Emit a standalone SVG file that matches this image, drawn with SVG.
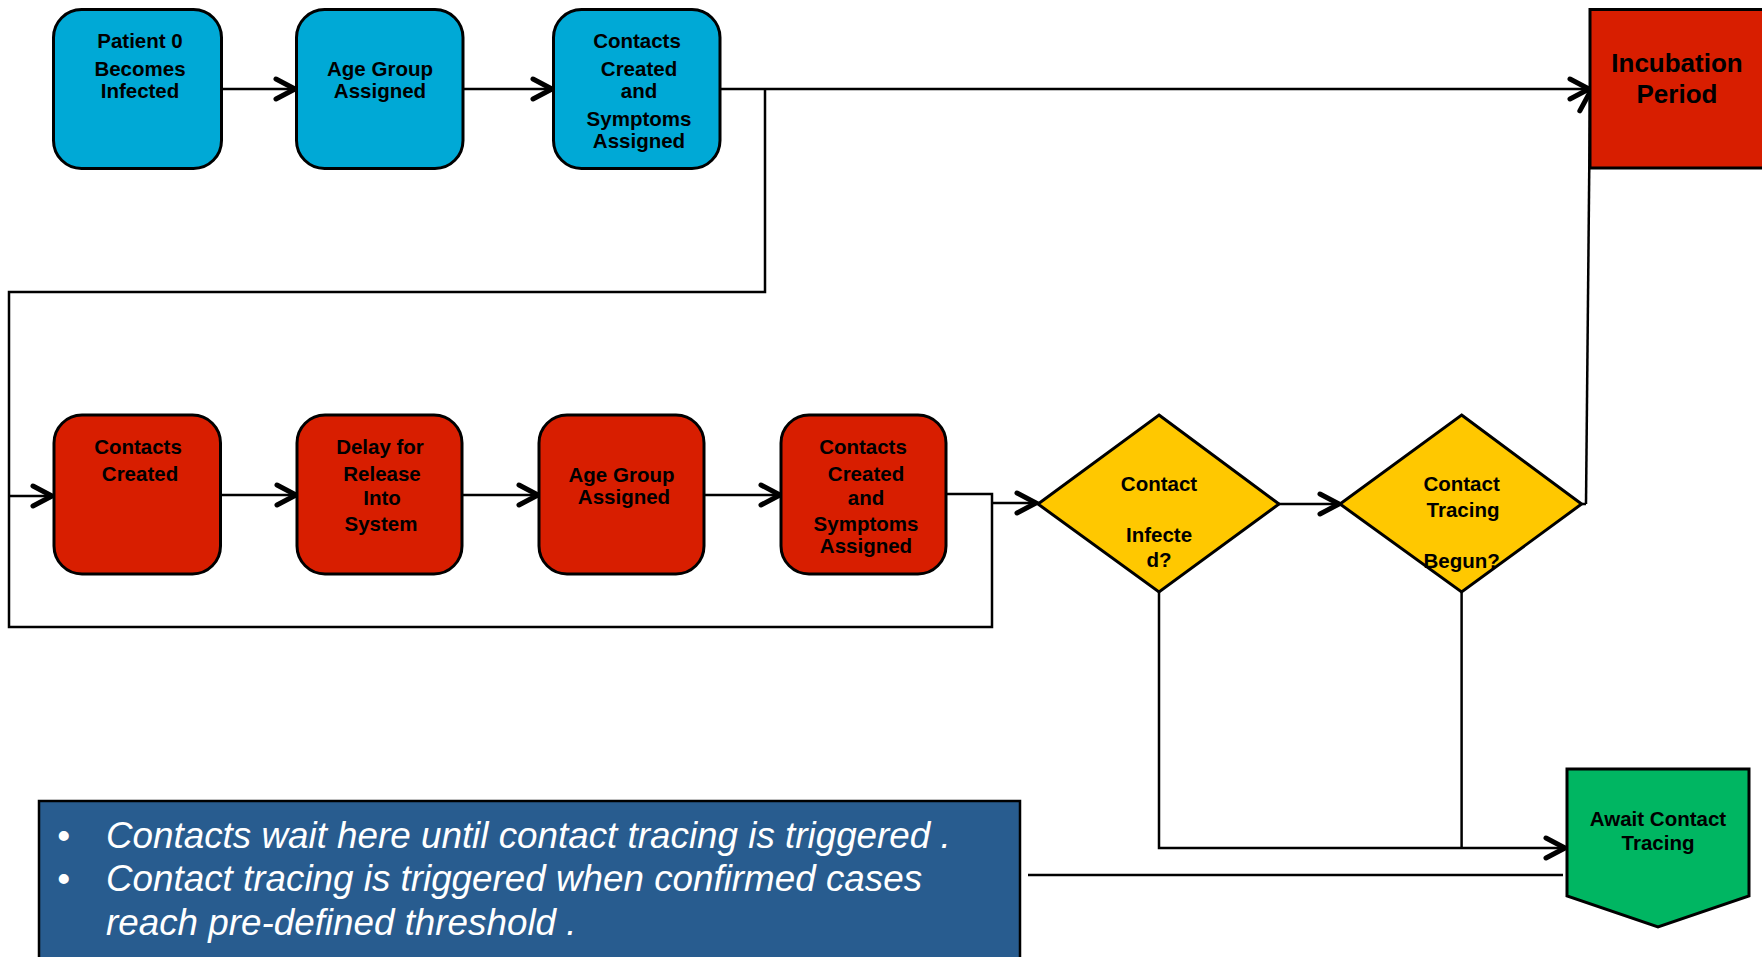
<svg xmlns="http://www.w3.org/2000/svg" width="1762" height="957" viewBox="0 0 1762 957">
<defs>
<style>
.box{stroke:#000;stroke-width:3}
.cyan{fill:#00A9D6}
.red{fill:#D81E00}
.yel{fill:#FFC800}
.grn{fill:#00B662}
.lbl{font-family:"Liberation Sans",Arial,sans-serif;font-weight:bold;font-size:20.5px;fill:#000;text-anchor:middle}
.big{font-size:26px}
.note{font-family:"Liberation Sans",Arial,sans-serif;font-style:italic;font-size:36.8px;fill:#fff}
.con{fill:none;stroke:#000;stroke-width:2.5}
.arr{marker-end:url(#ah)}
</style>
<marker id="ah" markerUnits="userSpaceOnUse" viewBox="-24 -14 28 28" markerWidth="28" markerHeight="28" refX="0" refY="0" orient="auto">
<path d="M-19,-10 L0,0 L-19,10" fill="none" stroke="#000" stroke-width="5" stroke-linecap="round" stroke-linejoin="miter"/>
</marker>
</defs>
<rect width="1762" height="957" fill="#fff"/>

<g id="connectors">
<path class="con arr" d="M221.5,89 H295"/>
<path class="con arr" d="M463,89 H552"/>
<path class="con arr" d="M720,89 H1589"/>
<path class="con" d="M765,89 V292 H9 V627 H992 V494 H946"/>
<path class="con arr" d="M9,496 H52"/>
<path class="con arr" d="M220.5,495 H296"/>
<path class="con arr" d="M462,495 H538"/>
<path class="con arr" d="M704,495 H780"/>
<path class="con arr" d="M992,503 H1036"/>
<path class="con arr" d="M1279,504 H1339"/>
<path class="con" d="M1581.5,504 H1586"/>
<path class="con arr" d="M1586,504 L1590,92"/>
<path class="con arr" d="M1159,592 V848 H1565"/>
<path class="con" d="M1461.6,592 V848"/>
<path class="con" d="M1028,875 H1563"/>
</g>

<g id="patient0">
<rect class="box cyan" x="53.5" y="9.5" width="168" height="159" rx="28"/>
<text class="lbl" x="140" y="48">Patient 0</text>
<text class="lbl" x="140" y="76">Becomes</text>
<text class="lbl" x="140" y="97.5">Infected</text>
</g>
<g id="agegroup1">
<rect class="box cyan" x="296.5" y="9.5" width="166.5" height="159" rx="28"/>
<text class="lbl" x="380" y="76">Age Group</text>
<text class="lbl" x="380" y="97.5">Assigned</text>
</g>
<g id="contacts1">
<rect class="box cyan" x="553.5" y="9.5" width="166.5" height="159" rx="28"/>
<text class="lbl" x="637" y="48">Contacts</text>
<text class="lbl" x="639" y="76">Created</text>
<text class="lbl" x="639" y="97.5">and</text>
<text class="lbl" x="639" y="126">Symptoms</text>
<text class="lbl" x="639" y="148">Assigned</text>
</g>
<g id="incubation">
<rect class="box red" x="1590" y="9.5" width="190" height="158.5"/>
<text class="lbl big" x="1677" y="72">Incubation</text>
<text class="lbl big" x="1677" y="103">Period</text>
</g>

<g id="contacts2">
<rect class="box red" x="54" y="415" width="166.5" height="159" rx="28"/>
<text class="lbl" x="138" y="454">Contacts</text>
<text class="lbl" x="140" y="481">Created</text>
</g>
<g id="delay">
<rect class="box red" x="297" y="415" width="165" height="159" rx="28"/>
<text class="lbl" x="380" y="454">Delay for</text>
<text class="lbl" x="382" y="481">Release</text>
<text class="lbl" x="382" y="505">Into</text>
<text class="lbl" x="381" y="531">System</text>
</g>
<g id="agegroup2">
<rect class="box red" x="539" y="415" width="165" height="159" rx="28"/>
<text class="lbl" x="621.5" y="482">Age Group</text>
<text class="lbl" x="624" y="504">Assigned</text>
</g>
<g id="contacts3">
<rect class="box red" x="781" y="415" width="165" height="159" rx="28"/>
<text class="lbl" x="863" y="454">Contacts</text>
<text class="lbl" x="866" y="481">Created</text>
<text class="lbl" x="866" y="505">and</text>
<text class="lbl" x="866" y="531">Symptoms</text>
<text class="lbl" x="866" y="553">Assigned</text>
</g>

<g id="infected">
<polygon class="box yel" points="1159,415 1279,504 1159,592 1038,504" stroke-width="2.5"/>
<text class="lbl" x="1159" y="491">Contact</text>
<text class="lbl" x="1159" y="541.5">Infecte</text>
<text class="lbl" x="1159" y="567">d?</text>
</g>
<g id="tracing">
<polygon class="box yel" points="1461.6,415 1581.6,504 1461.6,592 1340,504" stroke-width="2.5"/>
<text class="lbl" x="1461.6" y="491">Contact</text>
<text class="lbl" x="1463" y="517">Tracing</text>
<text class="lbl" x="1461.6" y="568">Begun?</text>
</g>

<g id="await">
<polygon class="box grn" points="1567,769 1749,769 1749,896 1658,927 1567,896"/>
<text class="lbl" x="1658" y="826">Await Contact</text>
<text class="lbl" x="1658" y="850">Tracing</text>
</g>

<g id="note">
<rect x="39" y="801" width="981" height="170" fill="#285C8F" stroke="#000" stroke-width="2.5"/>
<text class="note" x="57" y="848">•</text>
<text class="note" x="106" y="848">Contacts wait here until contact tracing is triggered .</text>
<text class="note" x="57" y="891">•</text>
<text class="note" x="106" y="891">Contact tracing is triggered when confirmed cases</text>
<text class="note" x="106" y="935">reach pre-defined threshold .</text>
</g>
</svg>
